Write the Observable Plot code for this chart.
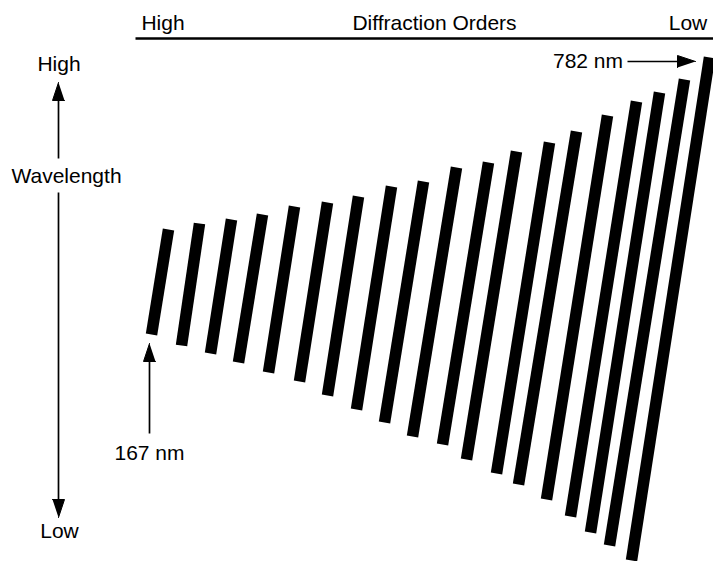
<!DOCTYPE html>
<html><head><meta charset="utf-8">
<script src="https://cdn.jsdelivr.net/npm/d3@7"></script>
<script src="https://cdn.jsdelivr.net/npm/@observablehq/plot@0.6"></script>
<style>html,body{margin:0;padding:0;background:#fff;} #chart svg{display:block}</style>
</head><body><div id="chart"></div>
<script>
// Echellogram schematic: each diffraction order is one slanted stripe.
// Coordinates are in detector units (x across orders, y along wavelength).
const orderIds = [1,2,3,4,5,6,7,8,9,10,11,12,13,14,15,16,17,18,19];
const topX    = [38,69,101,132,164,197,228,261,293,326,358,386,419,446,477,506,529,554,579];
const topY    = [332,338,342,347,355,359,365,375,380,394,399,410,419,430,446,460,469,482,504];
const bottomX = [21,51,80,108,138,169,197,226,254,282,312,336,366,388,416,440,460,479,501];
const bottomY = [227,216,208,199,189,180,166,152,139,125,117,102,88,77,62,45,29,16,1];

// Text labels
const labelText = ["High","Diffraction Orders","Low","High","Wavelength","Low","167 nm","782 nm"];
const labelX    = [32.5, 304, 557.5, -71.5, -64, -71, 19, 457.5];
const labelY    = [538, 538, 538, 497, 385, 30, 108, 500];

// Annotation arrows (start -> tip)
const arrowX1 = [-72, -72, 19, 497];
const arrowY1 = [403, 369, 128, 500];
const arrowX2 = [-72, -72, 19, 565];
const arrowY2 = [479, 44, 218, 500];

// Header rule
const ruleX1 = [5], ruleX2 = [583], ruleYv = [523];

const bars = orderIds.map((id, i) => ({id, tx: topX[i], ty: topY[i], bx: bottomX[i], by: bottomY[i]}));
const labels = labelText.map((t, i) => ({t, x: labelX[i], y: labelY[i]}));
const headLen = 18, headHalf = 6;
const arrows = arrowX1.map((x1, i) => {
  const x2 = arrowX2[i], y1 = arrowY1[i], y2 = arrowY2[i];
  const dx = x2 - x1, dy = y2 - y1, L = Math.hypot(dx, dy);
  const ux = dx / L, uy = dy / L;
  return {i, x1, y1, x2, y2, bx: x2 - headLen * ux, by: y2 - headLen * uy, px: -uy, py: ux};
});
const heads = arrows.flatMap(a => [
  {i: a.i, x: a.x2, y: a.y2},
  {i: a.i, x: a.bx + headHalf * a.px, y: a.by + headHalf * a.py},
  {i: a.i, x: a.bx - headHalf * a.px, y: a.by - headHalf * a.py}
]);
const rules = ruleX1.map((x1, i) => ({x1, x2: ruleX2[i], y: ruleYv[i]}));

const chart = Plot.plot({
  width: 713, height: 561,
  marginTop: 0, marginRight: 0, marginBottom: 0, marginLeft: 0,
  x: {domain: [-130, 583], axis: null},
  y: {domain: [0, 561], axis: null},
  style: {background: "white", fontFamily: "'Liberation Sans', Arial, sans-serif", fontSize: "21px", color: "black"},
  marks: [
    Plot.link(bars, {x1: "tx", y1: "ty", x2: "bx", y2: "by", stroke: "black", strokeWidth: 11.5, strokeLinecap: "butt"}),
    Plot.link(rules, {x1: "x1", x2: "x2", y1: "y", y2: "y", stroke: "black", strokeWidth: 2.5}),
    Plot.link(arrows, {x1: "x1", y1: "y1", x2: "bx", y2: "by", stroke: "black", strokeWidth: 1.7}),
    Plot.line(heads, {x: "x", y: "y", z: "i", fill: "black", stroke: "black", strokeWidth: 1}),
    Plot.text(labels, {x: "x", y: "y", text: "t", fontSize: 21, fill: "black", textAnchor: "middle"})
  ]
});
document.getElementById("chart").appendChild(chart);
</script>
</body></html>
